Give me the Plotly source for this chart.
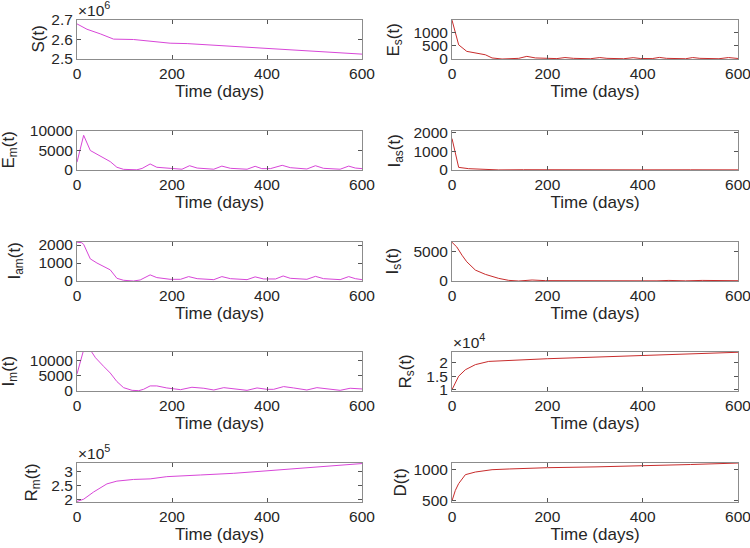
import plotly.graph_objects as go

# ---------------- data ----------------
t_S = [0, 21, 49, 77, 119, 154, 196, 232, 288, 358, 400, 470, 540, 600]
S = [2.680e6, 2.6525e6, 2.629e6, 2.602e6, 2.600e6, 2.590e6, 2.581e6, 2.579e6,
     2.571e6, 2.563e6, 2.556e6, 2.544e6, 2.534e6, 2.525e6]

t_Es = [0, 14, 31, 49, 70, 84, 105, 140, 157, 175, 220, 237, 255, 290, 310, 325,
        360, 380, 395, 420, 435, 450, 490, 505, 520, 560, 580, 600]
Es = [1475, 537, 290, 225, 160, 40, 0, 25, 100, 40, 15, 55, 25, 10, 55, 25,
      10, 50, 20, 15, 60, 25, 10, 55, 25, 10, 55, 20]

t_Em = [0, 14, 28, 46, 70, 84, 98, 126, 137, 154, 168, 196, 221, 237, 253, 288,
        305, 323, 358, 375, 389, 407, 432, 449, 484, 502, 519, 554, 572, 586, 600]
Em = [2000, 8900, 5000, 3700, 2150, 700, 170, 50, 400, 1550, 700, 430, 200, 1100,
      500, 200, 1000, 430, 200, 950, 350, 350, 1200, 600, 260, 1100, 430, 200,
      1000, 500, 350]

t_Ias = [0, 14, 35, 70, 98, 150, 200, 300, 400, 500, 600]
Ias = [1670, 140, 70, 35, 5, 15, 8, 10, 8, 10, 8]

t_Iam = [0, 10, 14, 28, 42, 70, 84, 98, 119, 133, 154, 168, 196, 218, 235, 253,
         288, 305, 323, 358, 375, 393, 418, 434, 449, 484, 502, 519, 554, 572,
         586, 600]
Iam = [2160, 2130, 2040, 1230, 1000, 620, 150, 40, 0, 57, 340, 190, 94, 94, 245,
       130, 75, 245, 130, 75, 230, 113, 113, 280, 150, 94, 260, 130, 75, 245,
       130, 75]

t_Is = [0, 10, 21, 31, 49, 70, 98, 119, 140, 168, 196, 240, 255, 290, 320, 360,
        390, 430, 455, 490, 525, 560, 590, 600]
Is = [6650, 5850, 4430, 3300, 1875, 1140, 450, 110, 0, 170, 60, 40, 100, 30, 90,
      30, 80, 30, 100, 30, 100, 30, 70, 50]

t_Im = [0, 14, 28, 39, 56, 70, 84, 98, 116, 130, 140, 154, 168, 189, 218, 242,
        267, 288, 309, 337, 358, 379, 400, 414, 435, 456, 484, 505, 533, 554,
        575, 600]
Im = [5600, 13500, 13500, 10900, 8100, 5900, 3100, 1100, 220, 110, 550, 1670,
      1670, 1000, 440, 1220, 900, 330, 1100, 670, 220, 1000, 550, 550, 1450,
      1000, 330, 1100, 670, 220, 900, 670]

t_Rs = [0, 7, 14, 28, 49, 77, 119, 200, 300, 400, 500, 600]
Rs = [1.0e4, 1.28e4, 1.5e4, 1.74e4, 1.93e4, 2.05e4, 2.09e4, 2.15e4, 2.21e4,
      2.27e4, 2.33e4, 2.39e4]

t_Rm = [0, 14, 35, 63, 84, 119, 154, 189, 260, 330, 400, 470, 540, 600]
Rm = [1.92e5, 2.0e5, 2.26e5, 2.55e5, 2.65e5, 2.71e5, 2.73e5, 2.81e5, 2.87e5,
      2.93e5, 3.02e5, 3.12e5, 3.20e5, 3.28e5]

t_D = [0, 7, 14, 28, 49, 84, 120, 200, 300, 400, 500, 600]
D = [489, 660, 772, 918, 962, 1000, 1012, 1033, 1046, 1060, 1085, 1109]

x_ticks = [0, 200, 400, 600]

# ---------------- styling ----------------
MAG = "#d846d8"
RED = "#c82c2c"
FONT = "Liberation Sans, Arial, Helvetica, sans-serif"
TXT = "#262626"
W, H = 750, 548
TICK_SIZE = 15.5
TITLE_SIZE = 17

col_px = [(77, 362), (452, 738)]
row_px = [(20, 59), (131, 170), (242, 281), (352, 391), (463, 502)]

panels = [
    # title, t, y, color, row, col, yrange, tickvals, ticktext, exponent, title centre x (px)
    ("S(t)", t_S, S, MAG, 0, 0, [2.5e6, 2.7e6], [2.5e6, 2.6e6, 2.7e6], ["2.5", "2.6", "2.7"], "6", 38),
    ("E<sub>s</sub>(t)", t_Es, Es, RED, 0, 1, [0, 1480], [0, 500, 1000], ["0", "500", "1000"], None, 395),
    ("E<sub>m</sub>(t)", t_Em, Em, MAG, 1, 0, [0, 10000], [0, 5000, 10000], ["0", "5000", "10000"], None, 9),
    ("I<sub>as</sub>(t)", t_Ias, Ias, RED, 1, 1, [0, 2070], [0, 1000, 2000], ["0", "1000", "2000"], None, 395),
    ("I<sub>am</sub>(t)", t_Iam, Iam, MAG, 2, 0, [0, 2170], [0, 1000, 2000], ["0", "1000", "2000"], None, 15),
    ("I<sub>s</sub>(t)", t_Is, Is, RED, 2, 1, [0, 6700], [0, 5000], ["0", "5000"], None, 393),
    ("I<sub>m</sub>(t)", t_Im, Im, MAG, 3, 0, [0, 12800], [0, 5000, 10000], ["0", "5000", "10000"], None, 9),
    ("R<sub>s</sub>(t)", t_Rs, Rs, RED, 3, 1, [0.95e4, 2.4e4], [1e4, 1.5e4, 2e4], ["1", "1.5", "2"], "4", 406),
    ("R<sub>m</sub>(t)", t_Rm, Rm, MAG, 4, 0, [1.9e5, 3.3e5], [2e5, 2.5e5, 3e5], ["2", "2.5", "3"], "5", 32),
    ("D(t)", t_D, D, RED, 4, 1, [470, 1110], [500, 1000], ["500", "1000"], None, 400),
]

fig = go.Figure()
layout = dict(
    width=W, height=H,
    margin=dict(l=0, r=0, t=0, b=0, pad=0, autoexpand=False),
    paper_bgcolor="white", plot_bgcolor="white",
    showlegend=False,
    font=dict(family=FONT, size=TICK_SIZE, color=TXT),
    annotations=[],
)

axis_common = dict(
    showline=True, linecolor="#8c8c8c", linewidth=1, mirror="ticks",
    ticks="inside", ticklen=4, tickcolor="#555555", tickwidth=1,
    showgrid=False, zeroline=False, automargin=False,
    ticklabeloverflow="allow",
    tickfont=dict(family=FONT, size=TICK_SIZE, color=TXT),
)

for i, (title, tx, ty, color, r, c, yr, tv, tt, expo, tcx) in enumerate(panels):
    n = i + 1
    xa = "xaxis" if n == 1 else f"xaxis{n}"
    ya = "yaxis" if n == 1 else f"yaxis{n}"
    xref = "x" if n == 1 else f"x{n}"
    yref = "y" if n == 1 else f"y{n}"
    x0, x1 = col_px[c]
    y0, y1 = row_px[r]
    fig.add_trace(go.Scatter(x=tx, y=ty, mode="lines",
                             line=dict(color=color, width=1),
                             xaxis=xref, yaxis=yref, hoverinfo="skip"))
    layout[xa] = dict(axis_common, domain=[x0 / W, x1 / W], anchor=yref,
                      range=[0, 600], tickvals=x_ticks,
                      title=dict(text="Time (days)", standoff=3,
                                 font=dict(family=FONT, size=TITLE_SIZE, color=TXT)))
    layout[ya] = dict(axis_common, domain=[1 - y1 / H, 1 - y0 / H], anchor=xref,
                      range=yr, tickvals=tv, ticktext=tt)
    # y-axis label, rotated, placed as in the reference
    layout["annotations"].append(dict(
        text=title, xref="paper", yref="paper", textangle=-90,
        x=tcx / W, y=1 - (y0 + y1) / 2 / H, xanchor="center", yanchor="middle",
        showarrow=False, font=dict(family=FONT, size=TITLE_SIZE, color=TXT)))
    if expo:
        layout["annotations"].append(dict(
            text=f"\u00d710<sup>{expo}</sup>", xref="paper", yref="paper",
            x=(x0 - 1) / W, y=1 - (y0 + 1) / H, xanchor="left", yanchor="bottom",
            showarrow=False, font=dict(family=FONT, size=TICK_SIZE, color=TXT)))

fig.update_layout(**layout)
fig.write_html(
    "out.html",
    config={"displayModeBar": False},
    post_script="document.body.style.margin='0';document.body.style.overflow='hidden';",
)
